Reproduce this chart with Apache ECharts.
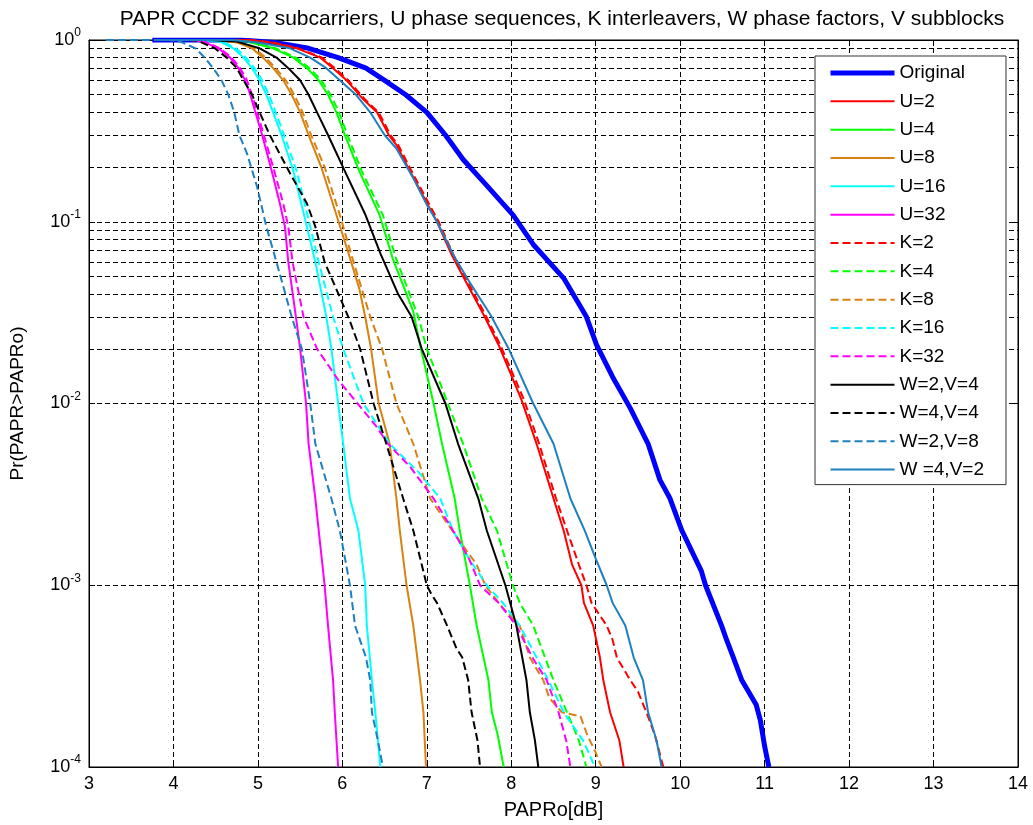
<!DOCTYPE html>
<html>
<head>
<meta charset="utf-8">
<script src="https://cdn.jsdelivr.net/npm/echarts@6.0.0/dist/echarts.min.js"></script>
<style>
  html, body { margin: 0; padding: 0; background: #fff; }
  #main { width: 1033px; height: 825px; }
</style>
</head>
<body>
<div id="main"></div>
<script>
// CCDF curves as [PAPRo dB, Pr(PAPR>PAPRo)]
const original = [[3.75,1],[4.8,1],[5.2,0.97],[5.6,0.9],[5.95,0.8],[6.28,0.7],[6.5,0.6],[6.75,0.5],[7.0,0.4],[7.22,0.3],[7.43,0.22],[7.7,0.16],[8.02,0.109],[8.26,0.075],[8.62,0.049],[8.89,0.03],[9.01,0.021],[9.2,0.014],[9.41,0.0094],[9.62,0.006],[9.76,0.0038],[9.88,0.003],[10.02,0.002],[10.18,0.0014],[10.25,0.0012],[10.3,0.001],[10.49,6e-4],[10.55,5e-4],[10.63,4e-4],[10.73,3e-4],[10.9,2.2e-4],[10.95,1.8e-4],[11.0,1.3e-4],[11.05,1e-4]]
const u2 = [[3.9,1],[4.9,1],[5.15,0.97],[5.46,0.9],[5.74,0.8],[5.89,0.7],[6.05,0.6],[6.25,0.47],[6.41,0.4],[6.55,0.3],[6.64,0.265],[6.8,0.19],[7.0,0.127],[7.12,0.1],[7.3,0.065],[7.45,0.048],[7.67,0.031],[7.85,0.021],[8.12,0.0105],[8.3,0.006],[8.5,0.003],[8.62,0.002],[8.72,0.0013],[8.83,0.001],[8.86,8e-4],[8.97,6e-4],[9.05,4e-4],[9.09,3e-4],[9.17,2e-4],[9.28,1.4e-4],[9.33,1e-4]]
const u4 = [[3.9,1],[4.6,1],[4.87,0.98],[5.18,0.9],[5.42,0.8],[5.58,0.7],[5.72,0.6],[5.83,0.5],[5.93,0.4],[6.03,0.3],[6.2,0.19],[6.44,0.109],[6.6,0.062],[6.84,0.032],[6.93,0.02],[7.08,0.01],[7.18,0.006],[7.33,0.003],[7.39,0.002],[7.51,0.001],[7.59,6e-4],[7.73,3e-4],[7.77,2e-4],[7.84,1.5e-4],[7.91,1e-4]]
const u8 = [[3.9,1],[4.5,1],[4.75,0.97],[4.93,0.9],[5.06,0.8],[5.18,0.7],[5.3,0.6],[5.4,0.5],[5.5,0.4],[5.6,0.3],[5.75,0.2],[5.93,0.109],[6.06,0.07],[6.2,0.043],[6.27,0.03],[6.34,0.02],[6.43,0.01],[6.56,0.006],[6.64,0.003],[6.68,0.002],[6.76,0.001],[6.84,6e-4],[6.92,3e-4],[6.96,2e-4],[6.99,1e-4]]
const u16 = [[3.9,1],[4.3,1],[4.55,0.98],[4.71,0.9],[4.83,0.8],[4.93,0.7],[5.02,0.6],[5.1,0.5],[5.18,0.4],[5.28,0.3],[5.42,0.19],[5.58,0.094],[5.68,0.06],[5.81,0.03],[5.87,0.02],[5.95,0.01],[6.01,0.006],[6.09,0.003],[6.19,0.002],[6.27,0.001],[6.29,6e-4],[6.35,3e-4],[6.39,2e-4],[6.45,1e-4]]
const u32 = [[3.9,1],[4.2,1],[4.35,0.98],[4.53,0.9],[4.67,0.8],[4.77,0.7],[4.85,0.6],[4.91,0.5],[4.97,0.4],[5.05,0.3],[5.16,0.193],[5.26,0.126],[5.32,0.094],[5.36,0.06],[5.45,0.03],[5.5,0.02],[5.57,0.01],[5.6,0.006],[5.68,0.003],[5.72,0.002],[5.79,0.001],[5.83,6e-4],[5.89,3e-4],[5.91,2e-4],[5.95,1e-4]]
const k2 = [[3.9,1],[4.9,1],[5.17,0.97],[5.48,0.9],[5.76,0.8],[5.91,0.7],[6.07,0.6],[6.27,0.47],[6.43,0.4],[6.57,0.3],[6.66,0.265],[6.82,0.19],[7.02,0.127],[7.14,0.1],[7.32,0.065],[7.47,0.048],[7.69,0.031],[7.87,0.021],[8.15,0.0105],[8.33,0.006],[8.53,0.003],[8.66,0.002],[8.8,0.0013],[8.89,0.001],[8.95,8e-4],[9.13,6e-4],[9.2,5e-4],[9.25,4e-4],[9.41,3e-4],[9.5,2.6e-4],[9.6,2e-4],[9.7,1.5e-4],[9.8,1e-4]]
const k4 = [[3.9,1],[4.6,1],[4.9,0.98],[5.21,0.9],[5.45,0.8],[5.61,0.7],[5.75,0.6],[5.86,0.5],[5.96,0.4],[6.06,0.3],[6.23,0.19],[6.48,0.109],[6.64,0.062],[6.9,0.03],[7.0,0.02],[7.25,0.01],[7.43,0.006],[7.65,0.003],[7.83,0.002],[8.02,0.001],[8.1,8e-4],[8.26,6e-4],[8.4,4e-4],[8.5,3e-4],[8.66,2e-4],[8.8,1.4e-4],[8.89,1e-4]]
const k8 = [[3.9,1],[4.5,1],[4.78,0.97],[4.96,0.9],[5.09,0.8],[5.21,0.7],[5.33,0.6],[5.43,0.5],[5.53,0.4],[5.63,0.3],[5.79,0.2],[5.97,0.109],[6.11,0.065],[6.33,0.03],[6.47,0.02],[6.64,0.01],[6.84,0.006],[7.04,0.003],[7.3,0.002],[7.59,0.0013],[7.69,0.001],[7.9,7.5e-4],[8.1,6e-4],[8.22,4e-4],[8.38,3e-4],[8.45,2.4e-4],[8.6,2e-4],[8.82,1.9e-4],[8.9,1.5e-4],[9.0,1.2e-4],[9.07,1e-4]]
const k16 = [[3.9,1],[4.3,1],[4.58,0.98],[4.74,0.9],[4.86,0.8],[4.96,0.7],[5.05,0.6],[5.13,0.5],[5.21,0.4],[5.31,0.3],[5.46,0.19],[5.62,0.094],[5.72,0.06],[5.89,0.03],[6.01,0.02],[6.25,0.01],[6.56,0.006],[6.9,0.0042],[7.16,0.003],[7.31,0.002],[7.5,0.0014],[7.71,0.001],[7.9,8e-4],[8.1,6e-4],[8.3,4e-4],[8.44,3e-4],[8.62,2e-4],[8.85,1.4e-4],[8.99,1e-4]]
const k32 = [[3.9,1],[4.2,1],[4.37,0.98],[4.55,0.9],[4.69,0.8],[4.79,0.7],[4.87,0.6],[4.93,0.5],[4.99,0.4],[5.07,0.3],[5.19,0.193],[5.3,0.126],[5.36,0.094],[5.41,0.06],[5.54,0.03],[5.7,0.02],[5.95,0.0135],[6.18,0.01],[6.4,0.0075],[6.54,0.006],[6.8,0.0045],[7.08,0.003],[7.31,0.002],[7.5,0.0014],[7.63,0.001],[7.85,8e-4],[8.06,6e-4],[8.25,4e-4],[8.42,3e-4],[8.56,2e-4],[8.65,1.4e-4],[8.7,1e-4]]
const w2v4 = [[3.9,1],[4.4,1],[4.75,0.98],[5.02,0.9],[5.22,0.8],[5.36,0.7],[5.5,0.6],[5.6,0.5],[5.7,0.4],[5.83,0.3],[6.05,0.181],[6.27,0.11],[6.45,0.067],[6.66,0.04],[6.82,0.03],[6.94,0.02],[7.22,0.01],[7.37,0.006],[7.61,0.003],[7.71,0.002],[7.93,0.001],[8.06,6e-4],[8.18,3e-4],[8.22,2e-4],[8.28,1.4e-4],[8.32,1e-4]]
const w4v4 = [[3.9,1],[4.2,1],[4.31,0.98],[4.49,0.9],[4.63,0.8],[4.75,0.7],[4.83,0.6],[4.93,0.5],[5.02,0.4],[5.14,0.3],[5.38,0.185],[5.58,0.126],[5.68,0.094],[5.79,0.06],[6.07,0.03],[6.21,0.02],[6.37,0.01],[6.52,0.006],[6.72,0.003],[6.84,0.002],[7.0,0.001],[7.05,9e-4],[7.12,8e-4],[7.24,6e-4],[7.35,4.5e-4],[7.42,4e-4],[7.49,3e-4],[7.53,2e-4],[7.6,1.4e-4],[7.63,1e-4]]
const w2v8 = [[3.2,1],[3.95,1],[4.08,0.98],[4.26,0.9],[4.37,0.8],[4.47,0.7],[4.57,0.6],[4.65,0.5],[4.72,0.4],[4.78,0.3],[4.87,0.238],[4.99,0.156],[5.1,0.094],[5.22,0.06],[5.4,0.03],[5.52,0.02],[5.62,0.01],[5.68,0.006],[5.87,0.003],[5.97,0.002],[6.09,0.001],[6.15,6e-4],[6.28,4e-4],[6.33,3e-4],[6.35,2e-4],[6.42,1.4e-4],[6.48,1e-4]]
const w4v2 = [[3.8,1],[4.7,1],[5.0,0.97],[5.38,0.9],[5.62,0.8],[5.81,0.7],[5.97,0.6],[6.16,0.5],[6.33,0.4],[6.5,0.3],[6.64,0.253],[6.85,0.17],[7.0,0.124],[7.12,0.1],[7.32,0.065],[7.5,0.047],[7.75,0.031],[7.97,0.02],[8.26,0.01],[8.5,0.006],[8.7,0.003],[8.87,0.002],[9.0,0.0014],[9.13,0.001],[9.2,8e-4],[9.35,6e-4],[9.45,4e-4],[9.56,3e-4],[9.62,2e-4],[9.72,1.4e-4],[9.78,1e-4]]

const legendNames = ['Original','U=2','U=4','U=8','U=16','U=32','K=2','K=4','K=8','K=16','K=32','W=2,V=4','W=4,V=4','W=2,V=8','W =4,V=2']
const curveData = [original, u2, u4, u8, u16, u32, k2, k4, k8, k16, k32, w2v4, w4v4, w2v8, w4v2]
const curveColors = ['#0000ff','#ff0000','#00ff00','#d98212','#00ffff','#ff00ff','#ff0000','#00ff00','#d98212','#00ffff','#ff00ff','#000000','#000000','#1f80c0','#1f80c0']
const curveDashed = [false,false,false,false,false,false,true,true,true,true,true,false,true,true,false]
const curveWidths = [5,2,2,2,2,2,2,2,2,2,2,2,2,2,2]

const xTicks = [3, 14, 1]          // min, max, step
const decades = [1e-4, 1e-3, 1e-2, 1e-1]
const minorSteps = [2, 3, 4, 5, 6, 7, 8, 9]

const FONT = 'Liberation Sans, Arial, sans-serif'
const gridDash = [5, 3]

// minor log gridlines (2..9 x each decade)
const minorLines = []
decades.forEach(d => minorSteps.forEach(k => minorLines.push({ yAxis: k * d })))

const series = curveData.map((data, i) => ({
    name: legendNames[i],
    type: 'line',
    data: data,
    symbol: 'none',
    showSymbol: false,
    z: 10,
    color: curveColors[i],
    itemStyle: { opacity: 0 },
    lineStyle: {
        color: curveColors[i],
        width: curveWidths[i],
        type: curveDashed[i] ? [8, 4] : 'solid'
    },
    emphasis: { disabled: true }
}))

// carrier for the minor horizontal gridlines
series.push({
    name: 'minor-grid',
    type: 'line',
    data: [],
    symbol: 'none',
    silent: true,
    markLine: {
        silent: true,
        z: 1,
        symbol: ['none', 'none'],
        label: { show: false },
        lineStyle: { color: '#000', width: 1, type: gridDash },
        emphasis: { disabled: true },
        data: minorLines
    }
})

const supLabel = v => '{b|10}{e|' + Math.round(Math.log10(v)) + '}'

const option = {
    animation: false,
    backgroundColor: '#fff',
    textStyle: { fontFamily: FONT },
    title: {
        text: 'PAPR CCDF 32 subcarriers, U phase sequences, K interleavers, W phase factors, V subblocks',
        left: 557,
        textAlign: 'center',
        top: 4,
        textStyle: { fontFamily: FONT, fontSize: 21, fontWeight: 'normal', color: '#000' }
    },
    grid: {
        left: 89, right: 15, top: 40, bottom: 58,
        show: true, borderColor: '#000', borderWidth: 1
    },
    legend: {
        data: legendNames.map((n, i) => ({ name: n, lineStyle: { width: curveWidths[i] } })),
        orient: 'vertical',
        left: 815,
        top: 56,
        itemWidth: 64,
        itemHeight: 20,
        itemGap: 8.33,
        padding: [7, 22, 5, 13],
        backgroundColor: '#fff',
        borderColor: '#333',
        borderWidth: 1,
        borderRadius: 0,
        selectedMode: false,
        itemStyle: { opacity: 0 },
        textStyle: { fontFamily: FONT, fontSize: 19, lineHeight: 20, color: '#000' }
    },
    xAxis: [{
        type: 'value',
        min: xTicks[0], max: xTicks[1], interval: xTicks[2],
        name: 'PAPRo[dB]',
        nameLocation: 'middle',
        nameGap: 33,
        nameTextStyle: { fontFamily: FONT, fontSize: 20, color: '#000' },
        axisLine: { onZero: false, lineStyle: { color: '#000' } },
        axisTick: { inside: true, length: 6, lineStyle: { color: '#000' } },
        axisLabel: { fontFamily: FONT, fontSize: 18, color: '#000', margin: 8 },
        splitLine: { show: true, lineStyle: { color: '#000', type: gridDash } }
    }, {
        type: 'value', position: 'top',
        min: xTicks[0], max: xTicks[1], interval: xTicks[2],
        axisLine: { lineStyle: { color: '#000' } },
        axisTick: { inside: true, length: 6, lineStyle: { color: '#000' } },
        axisLabel: { show: false },
        splitLine: { show: false }
    }],
    yAxis: [{
        type: 'log',
        logBase: 10,
        min: 1e-4, max: 1,
        name: 'Pr(PAPR>PAPRo)',
        nameLocation: 'middle',
        nameGap: 62,
        nameTextStyle: { fontFamily: FONT, fontSize: 19, color: '#000' },
        axisLine: { lineStyle: { color: '#000' } },
        axisTick: { inside: true, length: 6, lineStyle: { color: '#000' } },
        axisLabel: {
            formatter: supLabel,
            margin: 8,
            padding: [0, 0, 8, 0],
            rich: {
                b: { fontFamily: FONT, fontSize: 18, color: '#000', lineHeight: 18, padding: [8, 0, 0, 0] },
                e: { fontFamily: FONT, fontSize: 12, color: '#000', lineHeight: 12, verticalAlign: 'top' }
            }
        },
        splitLine: { show: true, lineStyle: { color: '#000', type: gridDash } }
    }, {
        type: 'log', logBase: 10, position: 'right',
        min: 1e-4, max: 1,
        axisLine: { lineStyle: { color: '#000' } },
        axisTick: { inside: true, length: 6, lineStyle: { color: '#000' } },
        axisLabel: { show: false },
        splitLine: { show: false }
    }],
    series: series
}

const myChart = echarts.init(document.getElementById('main'))
myChart.setOption(option)
</script>
</body>
</html>
